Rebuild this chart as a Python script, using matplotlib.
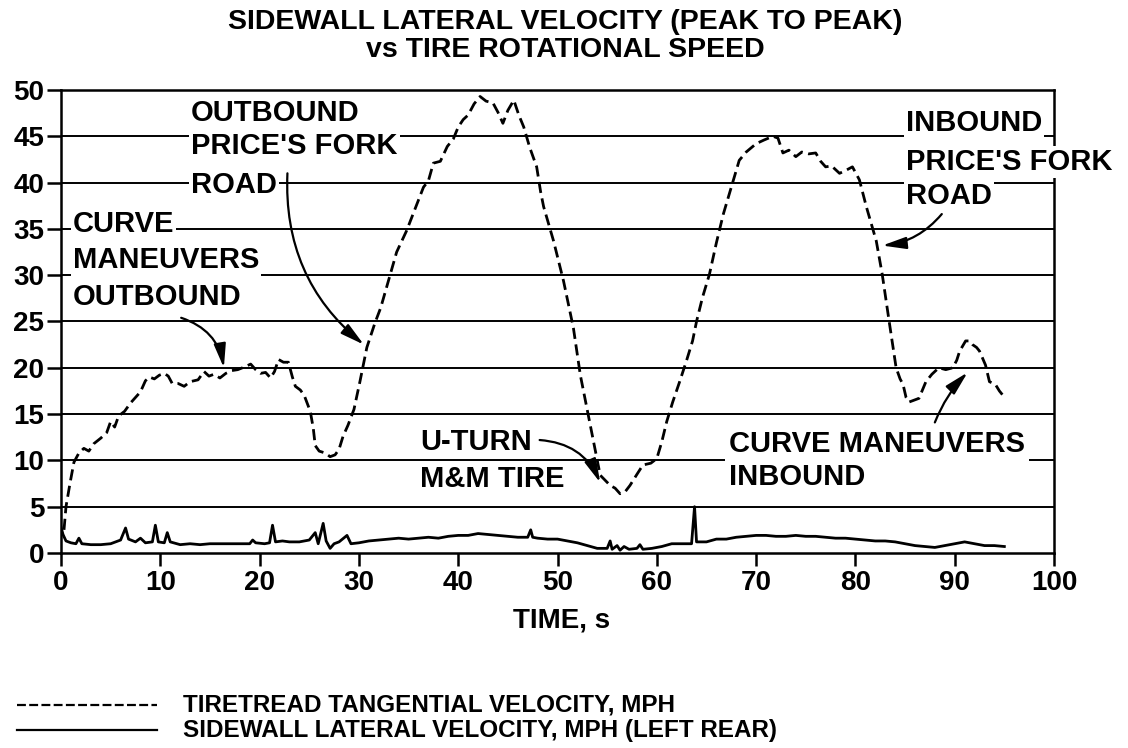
import matplotlib
matplotlib.use("Agg")
import matplotlib.pyplot as plt
from matplotlib.lines import Line2D

plt.rcParams['font.family'] = ['Liberation Sans', 'DejaVu Sans']
plt.rcParams['font.weight'] = 'bold'

# tiretread tangential velocity (dashed), MPH
tread_t = [0.3, 0.5, 0.9, 1.3, 1.8, 2.3, 2.8, 3.3, 4.0, 4.6, 5.0, 5.4, 5.8, 6.4, 7.0, 7.5,
           8.0, 8.5, 8.9, 9.4, 9.9, 10.4, 10.8, 11.2, 11.8, 12.4, 13.0, 13.8, 14.4, 14.9,
           15.4, 16.0, 16.6, 17.2, 17.8, 18.5, 19.1, 19.6, 20.1, 20.6, 21.1, 21.5, 21.9,
           22.4, 22.9, 23.3, 23.6, 24.1, 24.5, 25.1, 25.4, 25.6, 26.0, 26.6, 27.1, 27.6,
           28.0, 28.4, 28.9, 29.5, 30.1, 30.8, 31.6, 32.2, 33.0, 33.8, 34.8, 35.6, 36.5,
           37.0, 37.5, 38.2, 38.9, 39.5, 40.0, 40.5, 41.0, 41.6, 42.2, 42.8, 43.5, 44.0,
           44.5, 45.0, 45.6, 46.1, 46.6, 47.2, 47.9, 48.3, 48.6, 49.6, 50.6, 51.6, 52.3,
           53.3, 54.3, 55.3, 55.8, 56.3, 56.8, 57.3, 58.0, 58.6, 59.4, 60.0, 60.5, 61.0,
           61.6, 62.3, 63.0, 63.6, 64.0, 64.6, 65.3, 66.0, 66.7, 67.5, 68.3, 69.0, 70.0,
           70.8, 71.7, 72.2, 72.7, 73.3, 74.0, 74.6, 75.3, 76.0, 76.5, 77.0, 77.6, 78.4,
           79.0, 79.7, 80.4, 81.1, 82.1, 82.7, 83.4, 84.1, 84.5, 84.8, 85.1, 85.4, 85.9,
           86.4, 87.1, 87.7, 88.4, 89.1, 89.8, 90.2, 90.5, 91.1, 91.5, 91.8, 92.2, 92.5,
           93.1, 93.5, 94.1, 94.5, 94.8]
tread_v = [2.5, 5.0, 7.5, 9.8, 10.8, 11.3, 11.0, 11.8, 12.4, 13.0, 14.2, 13.6, 14.8, 15.3,
           16.2, 16.8, 17.4, 18.6, 19.0, 18.8, 19.2, 19.4, 19.1, 18.3, 18.3, 18.0, 18.5,
           18.7, 19.6, 19.1, 19.3, 18.9, 19.4, 19.7, 19.8, 20.1, 20.4, 19.8, 19.4, 19.5,
           18.9, 19.6, 20.9, 20.6, 20.6, 19.0, 18.0, 17.6, 17.0, 15.3, 13.5, 11.6, 11.0,
           10.8, 10.4, 10.6, 11.2, 12.6, 13.8, 15.5, 18.5, 22.2, 24.8, 26.5, 29.5, 32.5,
           34.8, 37.0, 39.5, 40.2, 42.1, 42.3, 43.9, 44.7, 46.0, 46.8, 47.3, 48.5, 49.3,
           48.8, 48.6, 47.6, 46.4, 47.8, 48.9, 47.3, 46.0, 43.8, 41.7, 39.0, 37.4, 33.7,
           29.4, 24.3, 19.2, 13.8, 8.4, 7.3, 7.0, 6.4, 6.6, 7.3, 8.5, 9.5, 9.7, 10.2, 12.0,
           14.2, 16.3, 18.5, 20.8, 22.9, 25.0, 27.6, 30.1, 33.5, 36.6, 39.5, 42.4, 43.3,
           44.2, 44.6, 45.0, 44.8, 43.2, 43.5, 42.8, 43.3, 43.1, 43.2, 42.3, 41.7, 41.8,
           41.0, 41.3, 41.7, 40.3, 37.4, 33.7, 30.1, 25.0, 20.0, 18.8, 18.2, 16.8, 16.3,
           16.5, 16.7, 18.5, 19.3, 20.0, 19.8, 20.0, 20.8, 21.8, 22.9, 22.9, 22.5, 22.2,
           21.8, 20.3, 18.5, 18.2, 17.5, 17.1]

# sidewall lateral velocity (solid), MPH
side_t = [0.0, 0.2, 0.5, 1.0, 1.5, 1.8, 2.1, 3.0, 4.0, 5.0, 5.5, 6.0, 6.5, 6.8, 7.5, 8.0,
          8.5, 9.2, 9.5, 9.8, 10.4, 10.7, 11.0, 12.0, 13.0, 14.0, 15.0, 16.0, 17.0, 18.0,
          19.0, 19.3, 19.6, 20.5, 21.0, 21.3, 21.6, 22.3, 23.0, 24.0, 25.0, 25.6, 25.9,
          26.4, 26.7, 27.1, 27.5, 28.0, 28.8, 29.2, 30.0, 31.0, 32.0, 33.0, 34.0, 35.0,
          36.0, 37.0, 38.0, 39.0, 40.0, 41.0, 42.0, 43.0, 44.0, 45.0, 46.0, 47.0, 47.3,
          47.5, 48.0, 49.0, 50.0, 51.0, 52.0, 53.0, 54.0, 55.0, 55.3, 55.5, 56.0, 56.3,
          56.7, 57.2, 58.0, 58.3, 58.6, 59.5, 60.5, 61.5, 62.5, 63.5, 63.8, 64.0, 65.0,
          66.0, 67.0, 68.0, 69.0, 70.0, 71.0, 72.0, 73.0, 74.0, 75.0, 76.0, 77.0, 78.0,
          79.0, 80.0, 81.0, 82.0, 83.0, 84.0, 85.0, 86.0, 87.0, 88.0, 89.0, 90.0, 91.0,
          91.5, 92.0, 93.0, 94.0, 95.0]
side_v = [2.8, 2.0, 1.3, 1.1, 1.0, 1.6, 1.0, 0.9, 0.9, 1.0, 1.2, 1.4, 2.7, 1.5, 1.2, 1.6,
          1.1, 1.2, 3.0, 1.2, 1.1, 2.2, 1.2, 0.9, 1.0, 0.9, 1.0, 1.0, 1.0, 1.0, 1.0, 1.4,
          1.1, 1.0, 1.1, 3.0, 1.2, 1.3, 1.2, 1.2, 1.4, 2.2, 1.0, 3.2, 1.3, 0.5, 1.0, 1.2,
          1.9, 1.0, 1.1, 1.3, 1.4, 1.5, 1.6, 1.5, 1.6, 1.7, 1.6, 1.8, 1.9, 1.9, 2.1, 2.0,
          1.9, 1.8, 1.7, 1.7, 2.5, 1.7, 1.6, 1.5, 1.5, 1.3, 1.1, 0.8, 0.5, 0.5, 1.3, 0.4,
          0.8, 0.3, 0.7, 0.4, 0.5, 0.9, 0.4, 0.5, 0.7, 1.0, 1.0, 1.0, 5.0, 1.2, 1.2, 1.5,
          1.5, 1.7, 1.8, 1.9, 1.9, 1.8, 1.8, 1.9, 1.8, 1.8, 1.7, 1.6, 1.6, 1.5, 1.4, 1.3,
          1.3, 1.2, 1.0, 0.8, 0.7, 0.6, 0.8, 1.0, 1.2, 1.1, 1.0, 0.8, 0.8, 0.7]

x_ticks = [0, 10, 20, 30, 40, 50, 60, 70, 80, 90, 100]
y_ticks = [0, 5, 10, 15, 20, 25, 30, 35, 40, 45, 50]

fs = 21
fig = plt.figure(figsize=(11.28, 7.48), dpi=100)
ax = fig.add_axes([0.0541, 0.2607, 0.8803, 0.619])

for y in y_ticks[1:-1]:
    ax.axhline(y, color='black', lw=1.4, zorder=1)

ax.plot(tread_t, tread_v, color='black', lw=2.0, dashes=(4, 2), zorder=3)
ax.plot(side_t, side_v, color='black', lw=2.0, zorder=3)

ax.set_xlim(0, 100)
ax.set_ylim(0, 50)
ax.set_xticks(x_ticks)
ax.set_yticks(y_ticks)
ax.tick_params(axis='x', direction='out', length=9, width=1.8, pad=3, labelsize=20)
ax.tick_params(axis='y', direction='out', length=10, width=1.8, pad=2, labelsize=20)
for s in ax.spines.values():
    s.set_linewidth(1.8)
    s.set_zorder(2)


def label(x, y, txt, pad=1.5):
    ax.text(x, y, txt, fontsize=fs, va='center', ha='left',
            bbox=dict(facecolor='white', edgecolor='none', pad=pad),
            zorder=5, clip_on=False)


def arrow(start, end, rad):
    ax.annotate('', xy=end, xytext=start, zorder=6, annotation_clip=False,
                arrowprops=dict(arrowstyle='-|>,head_length=0.8,head_width=0.2',
                                mutation_scale=18, lw=1.6, color='black',
                                shrinkA=0, shrinkB=0,
                                connectionstyle='arc3,rad=%s' % rad))


label(13.1, 47.5, 'OUTBOUND')
label(13.1, 43.9, "PRICE'S FORK")
label(13.1, 39.7, 'ROAD')
arrow((22.8, 41.0), (30.5, 22.5), 0.25)

label(1.2, 35.5, 'CURVE')
label(1.2, 31.6, 'MANEUVERS')
label(1.2, 27.6, 'OUTBOUND')
arrow((12.1, 25.4), (16.4, 20.0), -0.3)

label(36.2, 12.0, 'U-TURN', pad=0.2)
label(36.2, 8.0, 'M&M TIRE', pad=0.2)
arrow((48.2, 12.2), (54.3, 7.6), -0.3)

label(85.1, 46.4, 'INBOUND')
label(85.1, 42.2, "PRICE'S FORK")
label(85.1, 38.6, 'ROAD')
arrow((88.7, 36.6), (82.7, 33.2), -0.2)

ax.text(67.3, 10.0, 'CURVE MANEUVERS\nINBOUND', fontsize=fs, va='center', ha='left',
        linespacing=1.25, bbox=dict(facecolor='white', edgecolor='none', pad=3),
        zorder=5, clip_on=False)
arrow((88.0, 14.1), (91.3, 19.5), -0.1)

fig.text(0.501, 1 - 22 / 748, 'SIDEWALL LATERAL VELOCITY (PEAK TO PEAK)',
         ha='center', va='center', fontsize=20.5)
fig.text(0.501, 1 - 50 / 748, 'vs TIRE ROTATIONAL SPEED',
         ha='center', va='center', fontsize=20.5)
fig.text(0.498, 1 - 620 / 748, 'TIME, s', ha='center', va='center', fontsize=20)

# legend
fig.add_artist(Line2D([17 / 1128, 157 / 1128], [1 - 705 / 748] * 2, color='black',
                      lw=1.6, dashes=(4, 1.5), transform=fig.transFigure))
fig.add_artist(Line2D([17 / 1128, 157 / 1128], [1 - 730 / 748] * 2, color='black',
                      lw=1.6, transform=fig.transFigure))
fig.text(183 / 1128, 1 - 705 / 748, 'TIRETREAD TANGENTIAL VELOCITY, MPH',
         va='center', ha='left', fontsize=17.5)
fig.text(183 / 1128, 1 - 731 / 748, 'SIDEWALL LATERAL VELOCITY, MPH (LEFT REAR)',
         va='center', ha='left', fontsize=17.5)

fig.savefig('out.png', dpi=100)
